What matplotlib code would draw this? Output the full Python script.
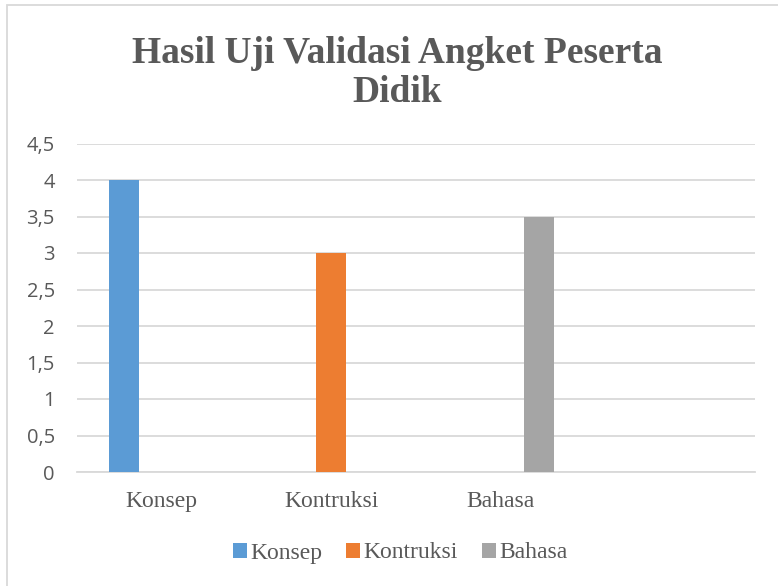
import matplotlib
matplotlib.use("Agg")
import matplotlib.pyplot as plt
import numpy as np
from matplotlib.patches import Rectangle

categories = ["Konsep", "Kontruksi", "Bahasa", ""]
series_names = ["Konsep", "Kontruksi", "Bahasa"]
konsep_vals = [4, 0, 0, 0]
kontruksi_vals = [0, 3, 0, 0]
bahasa_vals = [0, 0, 3.5, 0]
colors = ["#5B9BD5", "#ED7D31", "#A5A5A5"]
yticks = [0, 0.5, 1, 1.5, 2, 2.5, 3, 3.5, 4, 4.5]
ytick_labels = ["0", "0,5", "1", "1,5", "2", "2,5", "3", "3,5", "4", "4,5"]

W, H = 778, 586
fig = plt.figure(figsize=(W / 100, H / 100), dpi=100)
ax = fig.add_axes([77 / W, 1 - 472 / H, (755 - 77) / W, (472 - 143.5) / H])

x = np.arange(len(categories))
bw = 30 / 169.5
off = 38 / 169.5
for i, (vals, name, c) in enumerate(zip([konsep_vals, kontruksi_vals, bahasa_vals], series_names, colors)):
    ax.bar(x + (i - 1) * off, vals, width=bw, color=c, label=name, linewidth=0, zorder=3)

ax.set_xlim(-0.5, len(categories) - 0.5)
ax.set_ylim(0, 4.5)
ax.set_yticks(yticks)
ax.set_yticklabels(ytick_labels, fontsize=14.5, color="#595959", family="Open Sans")
ax.set_xticks(x)
ax.set_xticklabels(categories, fontsize=17, color="#595959", family="Liberation Serif")
ax.tick_params(axis="both", length=0)
ax.tick_params(axis="y", pad=16)
ax.tick_params(axis="x", pad=14)
ax.grid(axis="y", color="#D9D9D9", linewidth=1.3, zorder=0)
for s in ["top", "right", "left"]:
    ax.spines[s].set_visible(False)
ax.spines["bottom"].set_color("#D9D9D9")
ax.spines["bottom"].set_linewidth(1.3)

fig.text(397 / W, 1 - 73 / H, "Hasil Uji Validasi Angket Peserta\nDidik", ha="center", va="center",
         fontsize=27, fontweight="bold", color="#595959", family="Liberation Serif", linespacing=1.15)

leg = fig.legend(loc="center", bbox_to_anchor=(400 / W, 1 - 553 / H), ncol=3, frameon=False,
                 prop={"family": "Liberation Serif", "size": 17}, handlelength=0.6, handleheight=0.6,
                 handletextpad=0.15, columnspacing=1.0, labelcolor="#595959")

fig.patches.append(Rectangle((7 / W, -0.1), 1.2, (1 - 5 / H) + 0.1, transform=fig.transFigure,
                             fill=False, edgecolor="#D9D9D9", linewidth=1.3))

fig.savefig("out.png", dpi=100)
